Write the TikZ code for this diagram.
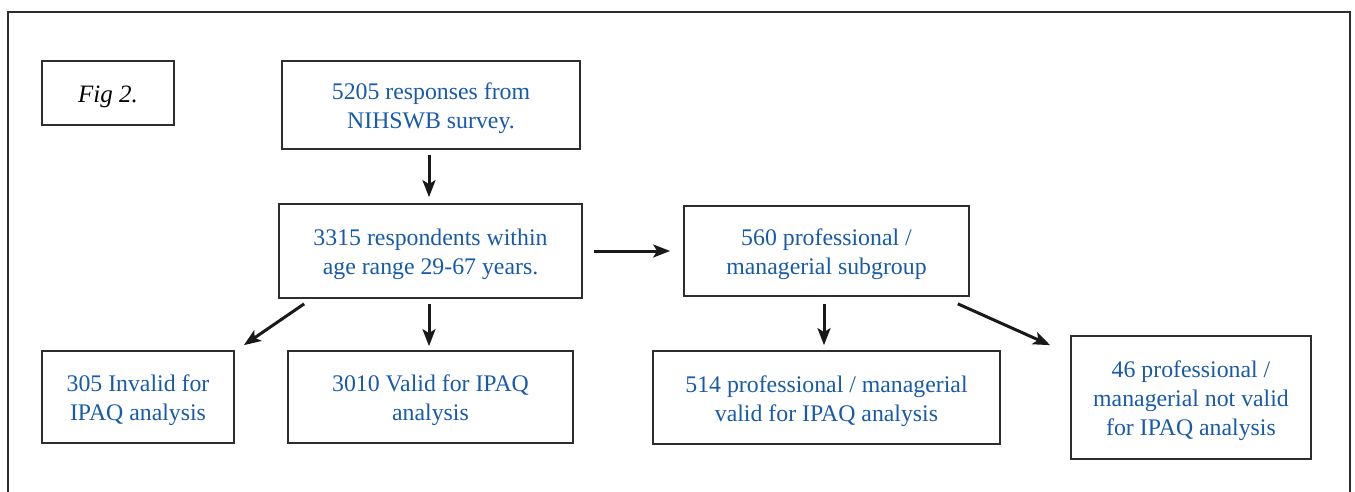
\documentclass[tikz,border=0pt]{standalone}
\usepackage{fontspec}
\setmainfont{Liberation Serif}
\usetikzlibrary{arrows.meta}
\definecolor{txtblue}{RGB}{24,90,170}
\definecolor{boxgray}{RGB}{45,45,45}
\newcommand\myst{\rule{0pt}{24pt}}
\begin{document}
\begin{tikzpicture}[x=1pt,y=-1pt,
  box/.style={draw=boxgray,line width=1.7pt,rectangle,inner sep=0pt,align=center,
    text=txtblue,font=\fontsize{23.8pt}{29pt}\selectfont},
  conn/.style={draw=black!90,line width=3pt,-{Stealth[length=17pt,width=13pt,inset=4pt]}}]
\useasboundingbox (0,0) rectangle (1355,492);
\draw[boxgray,line width=1.6pt] (8,12) rectangle (1350,520);
\node[box,minimum width=132pt,minimum height=64pt,text=black,font=\fontsize{25pt}{29pt}\selectfont\itshape] (fig) at (108,93) {\myst Fig 2.};
\node[box,minimum width=298pt,minimum height=88pt] (b1) at (431,105) {\myst 5205 responses from\\NIHSWB survey.};
\node[box,minimum width=303pt,minimum height=94pt] (b2) at (430.5,251) {\myst 3315 respondents within\\age range 29-67 years.};
\node[box,minimum width=285pt,minimum height=90pt] (b560) at (826.5,251) {\myst 560 professional /\\managerial subgroup};
\node[box,minimum width=192pt,minimum height=92pt] (b305) at (138,397) {\myst 305 Invalid for\\IPAQ analysis};
\node[box,minimum width=285pt,minimum height=92pt] (b3010) at (430.5,397) {\myst 3010 Valid for IPAQ\\analysis};
\node[box,minimum width=347pt,minimum height=93pt] (b514) at (826.5,397.5) {\myst 514 professional / managerial\\valid for IPAQ analysis};
\node[box,minimum width=240pt,minimum height=123pt] (b46) at (1191,397.5) {\myst 46 professional /\\managerial not valid\\for IPAQ analysis};
\draw[conn,shorten <=5pt,shorten >=6pt] ([xshift=-2pt]b1.south) -- ([xshift=-1.5pt]b2.north);
\draw[conn,shorten <=11pt,shorten >=13pt] (b2.east) -- (b2.east -| b560.west);
\draw[conn] ([xshift=26pt,yshift=-5pt]b2.south west) -- ([xshift=9pt,yshift=5pt]b305.north east);
\draw[conn,shorten <=5pt,shorten >=4pt] ([xshift=-1.5pt]b2.south) -- ([xshift=-1.5pt]b3010.north);
\draw[conn,shorten <=7pt,shorten >=5pt] ([xshift=-2.5pt]b560.south) -- ([xshift=-2.5pt]b514.north);
\draw[conn] ([xshift=-12pt,yshift=-7pt]b560.south east) -- ([xshift=-20pt,yshift=-10pt]b46.north west);
\end{tikzpicture}
\end{document}
